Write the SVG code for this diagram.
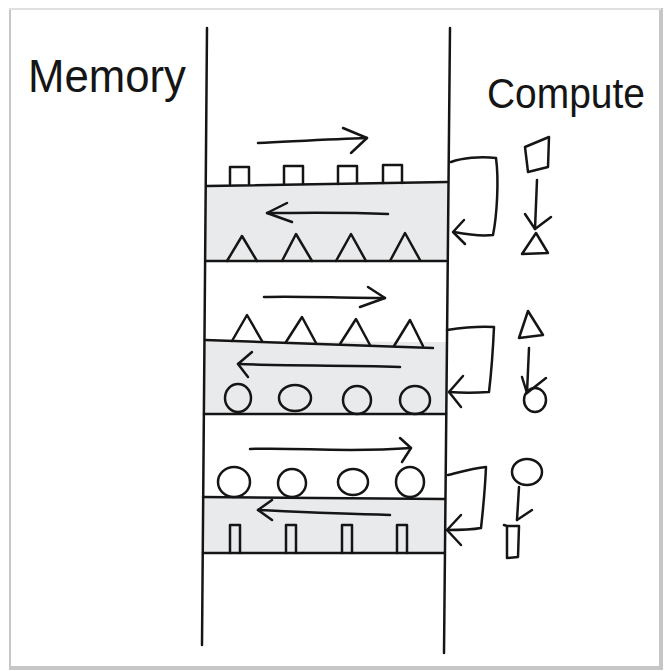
<svg xmlns="http://www.w3.org/2000/svg" width="664" height="671" viewBox="0 0 664 671">
  <style>
    .ink { fill: none; stroke: #151515; stroke-width: 2.5; stroke-linecap: round; stroke-linejoin: round; }
    .band { fill: #e8eaec; stroke: none; }
    .label { font-family: "Liberation Sans", "DejaVu Sans", sans-serif; fill: #151515; }
  </style>

  <!-- page card with soft edge -->
  <rect x="0" y="0" width="664" height="671" fill="#ffffff"/>
  <rect x="9" y="8" width="654" height="662" fill="#c6c6c6"/>
  <rect x="9" y="8" width="652" height="2" fill="#e0e0e0"/>
  <rect x="11" y="10" width="648" height="656" fill="#ffffff"/>

  <!-- headings -->
  <g id="memory-label">
    <text class="label" x="28" y="92" font-size="46" textLength="158" lengthAdjust="spacingAndGlyphs">Memory</text>
  </g>
  <g id="compute-label">
    <text class="label" x="487" y="108" font-size="42" textLength="158" lengthAdjust="spacingAndGlyphs">Compute</text>
  </g>

  <!-- shaded layers inside the memory column -->
  <g id="bands">
    <polygon class="band" points="207,185 447,182 447,261 206,261"/>
    <polygon class="band" points="205,341 447,342 446,414 204,414"/>
    <polygon class="band" points="203,497 445,499 444,553 203,553"/>
  </g>

  <!-- memory column walls and shelves -->
  <g id="memory-column">
    <path class="ink" d="M207,28 L202,645"/>
    <path class="ink" d="M450,28 L444,653"/>
    <path class="ink" d="M207,186 L447,182"/>
    <path class="ink" d="M206,261 L446,261"/>
    <path class="ink" d="M205,340 L433,348"/>
    <path class="ink" d="M204,414 L446,414"/>
    <path class="ink" d="M203,497 L445,499"/>
    <path class="ink" d="M203,553 L444,553"/>
  </g>

  <!-- layer 1: squares in, triangles out -->
  <g id="layer-1">
    <path class="ink" d="M230,184 L230,167 L249,167 L249,184"/>
    <path class="ink" d="M284,184 L284,166 L303,166 L303,184"/>
    <path class="ink" d="M338,184 L338,166 L357,166 L357,183"/>
    <path class="ink" d="M383,183 L383,165 L402,165 L402,183"/>
    <path class="ink" d="M227,261 L242,236 L257,261"/>
    <path class="ink" d="M282,261 L296,234 L312,261"/>
    <path class="ink" d="M336,261 L351,234 L366,261"/>
    <path class="ink" d="M390,261 L405,233 L420,260"/>
  </g>

  <!-- layer 2: triangles in, circles out -->
  <g id="layer-2">
    <path class="ink" d="M232,341 L247,315 L262,341"/>
    <path class="ink" d="M286,342 L302,317 L316,343"/>
    <path class="ink" d="M340,344 L356,319 L370,345"/>
    <path class="ink" d="M394,346 L410,320 L423,346"/>
    <ellipse class="ink" cx="238" cy="398" rx="13" ry="14"/>
    <ellipse class="ink" cx="295" cy="398" rx="16" ry="13"/>
    <ellipse class="ink" cx="357" cy="400" rx="14" ry="14"/>
    <ellipse class="ink" cx="415" cy="400" rx="15" ry="14"/>
  </g>

  <!-- layer 3: circles in, bars out -->
  <g id="layer-3">
    <ellipse class="ink" cx="234" cy="482" rx="16" ry="15"/>
    <ellipse class="ink" cx="292" cy="483" rx="14" ry="14"/>
    <ellipse class="ink" cx="353" cy="482" rx="15" ry="13"/>
    <ellipse class="ink" cx="410" cy="482" rx="14" ry="15"/>
    <path class="ink" d="M230,553 L230,525 L240,525 L240,553"/>
    <path class="ink" d="M286,553 L286,525 L296,525 L296,553"/>
    <path class="ink" d="M342,553 L342,525 L352,525 L352,553"/>
    <path class="ink" d="M397,553 L397,525 L407,525 L407,553"/>
  </g>

  <!-- compute steps -->
  <g id="compute-step-1">
    <path class="ink" d="M525,147 L549,137 L548,167 L528,172 Z"/>
    <path class="ink" d="M522,254 L536,233 L548,253 Z"/>
  </g>
  <g id="compute-step-2">
    <path class="ink" d="M519,338 L528,311 L543,335 Z"/>
    <ellipse class="ink" cx="535" cy="400" rx="11" ry="12"/>
  </g>
  <g id="compute-step-3">
    <ellipse class="ink" cx="527" cy="472" rx="15" ry="13"/>
    <path class="ink" d="M504,525 L507,526 L507,558 L518,557 L519,526 L507,526"/>
  </g>

  <!-- flow arrows and feedback loops -->
  <g id="connectors">
    <!-- data sweeps across each layer -->
    <path class="ink" d="M258,143 C300,141 335,139 367,138"/>
    <path class="ink" d="M343,128 L367,138 L351,153"/>
    <path class="ink" d="M388,214 C340,212 300,213 267,213"/>
    <path class="ink" d="M287,203 L267,213 L292,222"/>

    <path class="ink" d="M264,297 C300,296 340,298 385,298"/>
    <path class="ink" d="M368,287 L385,298 L360,307"/>
    <path class="ink" d="M400,367 C340,365 280,366 238,364"/>
    <path class="ink" d="M252,352 L238,364 L248,377"/>

    <path class="ink" d="M250,449 C300,447 340,453 411,448"/>
    <path class="ink" d="M400,438 L411,448 L402,462"/>
    <path class="ink" d="M390,515 C340,514 300,512 258,510"/>
    <path class="ink" d="M272,500 L258,510 L272,520"/>

    <!-- feedback loops from compute back into memory -->
    <path class="ink" d="M451,162 C462,158 480,156 496,158 C499,180 497,215 493,235 C485,236 475,236 454,232"/>
    <path class="ink" d="M464,220 L453,232 L465,244"/>
    <path class="ink" d="M447,330 C460,328 480,326 494,327 C493,350 491,375 489,392 C475,393 462,393 449,392"/>
    <path class="ink" d="M463,376 L449,392 L461,407"/>
    <path class="ink" d="M448,475 C460,472 474,468 486,467 C485,490 483,510 481,528 C470,530 458,530 447,530"/>
    <path class="ink" d="M461,515 L447,530 L461,545"/>

    <!-- compute transitions -->
    <path class="ink" d="M537,180 L535,229"/>
    <path class="ink" d="M525,214 L535,229 L551,217"/>
    <path class="ink" d="M529,348 L527,393"/>
    <path class="ink" d="M522,377 L527,393 L546,378"/>
    <path class="ink" d="M519,487 L517,520"/>
    <path class="ink" d="M517,520 L532,510"/>
  </g>
</svg>
